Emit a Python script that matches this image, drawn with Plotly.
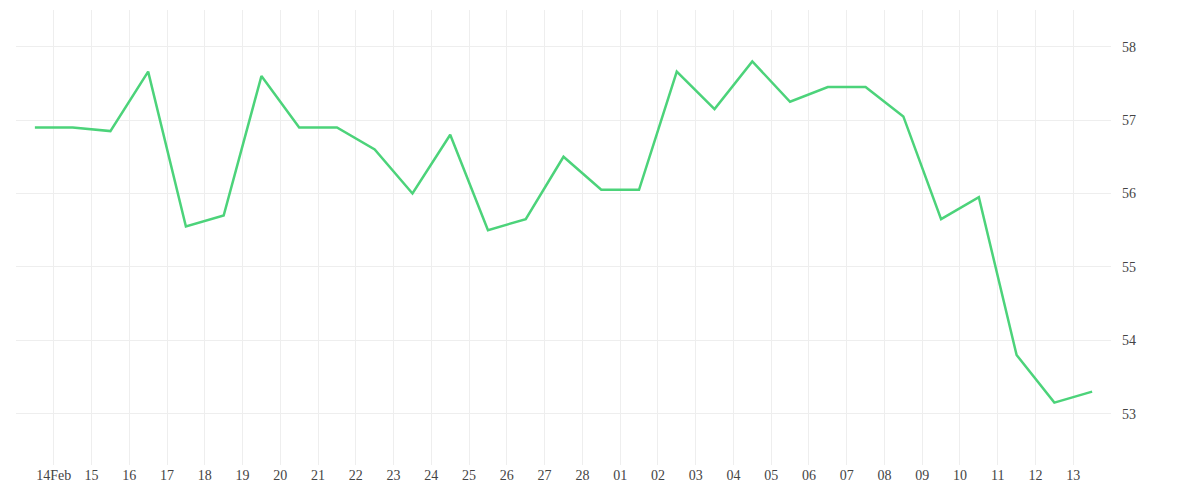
import plotly.graph_objects as go
import pandas as pd

dates = pd.date_range("2023-02-13 12:00", "2023-03-13 12:00", freq="D")
values = [56.9, 56.9, 56.85, 57.66, 55.55, 55.7, 57.6, 56.9, 56.9, 56.6,
          56.0, 56.8, 55.5, 55.65, 56.5, 56.05, 56.05, 57.66, 57.15, 57.8,
          57.25, 57.45, 57.45, 57.05, 55.65, 55.95, 53.8, 53.15, 53.3]
tick_dates = pd.date_range("2023-02-14", "2023-03-13", freq="D")
tick_text = ["14Feb"] + [d.strftime("%d") for d in tick_dates[1:]]

fig = go.Figure(go.Scatter(x=dates, y=values, mode="lines",
                           line=dict(color="#4cd37a", width=2.5)))
fig.update_layout(
    width=1200, height=500, margin=dict(l=8, r=97, t=2, b=43, autoexpand=False),
    plot_bgcolor="white", paper_bgcolor="white", showlegend=False,
    font=dict(family="Liberation Serif", size=14, color="#444"),
)
fig.update_xaxes(range=["2023-02-13", "2023-03-14"], tickvals=tick_dates, ticktext=tick_text,
                 showgrid=True, gridcolor="#eeeeee", zeroline=False, showline=False)
fig.update_yaxes(side="right", range=[52.3, 58.5], dtick=1, showgrid=True,
                 gridcolor="#eeeeee", zeroline=False, ticks="", ticklabelstandoff=10)
fig.write_html("out.html")
